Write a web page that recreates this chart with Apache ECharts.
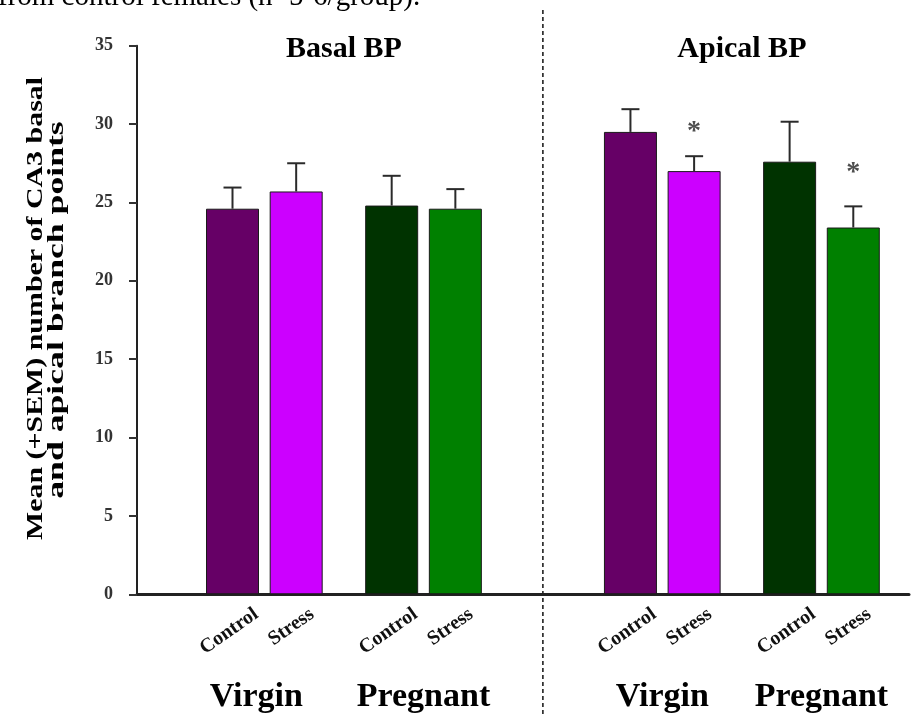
<!DOCTYPE html>
<html><head><meta charset="utf-8">
<script src="https://cdn.jsdelivr.net/npm/echarts@6/dist/echarts.min.js"></script>
<style>html,body{margin:0;padding:0;background:#fff}#c{width:912px;height:717px}</style>
</head><body><div id="c"></div>
<script>
// ---------------- data ----------------
const groups = ['Basal BP', 'Apical BP'];
const states = ['Virgin', 'Pregnant'];
const treatments = ['Control', 'Stress'];
// order: Virgin Control, Virgin Stress, Pregnant Control, Pregnant Stress
const basalMean = [24.6, 25.7, 24.8, 24.6];
const basalSem = [1.35, 1.8, 1.9, 1.25];
const apicalMean = [29.5, 27.0, 27.6, 23.4];
const apicalSem = [1.45, 0.95, 2.55, 1.35];
const apicalStar = [null, 29.8, null, 27.2];
const basalStar = [null, null, null, null];
const yMin = 0, yMax = 35, yStep = 5;
const caption = 'from control females (n=5-6/group).';
const yTitle = ['Mean (+SEM) number of CA3 basal', 'and apical branch points'];

// ---------------- layout ----------------
const FONT = '"Liberation Serif", "Times New Roman", serif';
const SLOTS = 98;
const SLOT_W = 8.03;
const barSlots = [12, 20, 32, 40, 62, 70, 82, 90];
const labelShift = { Control: 3, Stress: 2 };
const stateSlots = [15, 36, 66, 86];
const dividerSlot = 51;
const barColors = ['#660066', '#CC00FF', '#003300', '#008000'];

const means = [basalMean, apicalMean];
const sems = [basalSem, apicalSem];
const stars = [basalStar, apicalStar];

const conditions = [];
states.forEach(s => treatments.forEach(t => conditions.push(s + ' ' + t)));

const barCats = new Array(SLOTS).fill('');
groups.forEach((g, gi) => conditions.forEach((c, ci) => { barCats[barSlots[gi * 4 + ci]] = g + ' ' + c; }));

const treatmentCats = new Array(SLOTS).fill('');
barSlots.forEach((s, i) => { const t = treatments[i % 2]; treatmentCats[s + labelShift[t]] = t; });
const stateCats = new Array(SLOTS).fill('');
stateSlots.forEach((s, i) => { stateCats[s] = states[i % 2]; });

const barSeries = conditions.map((name, ci) => {
  const data = new Array(SLOTS).fill('-');
  groups.forEach((g, gi) => { data[barSlots[gi * 4 + ci]] = means[gi][ci]; });
  return {
    type: 'bar', name, data, barWidth: 53, barGap: '-100%',
    itemStyle: { color: barColors[ci], borderColor: '#1a1a1a', borderWidth: 1 },
    silent: true, z: 2
  };
});

const errData = [];
const starData = [];
groups.forEach((g, gi) => conditions.forEach((c, ci) => {
  const slot = barSlots[gi * 4 + ci];
  errData.push([slot, means[gi][ci], means[gi][ci] + sems[gi][ci]]);
  if (stars[gi][ci] != null) starData.push([slot, stars[gi][ci]]);
}));

const chart = echarts.init(document.getElementById('c'), null, { renderer: 'canvas' });

const baseAxis = {
  type: 'category', boundaryGap: false, position: 'bottom', offset: 0,
  axisTick: { show: false }, splitLine: { show: false }
};

chart.setOption({
  animation: false,
  backgroundColor: '#fff',
  grid: { left: 137, top: 45.7, width: (SLOTS - 1) * SLOT_W, height: 548.6, containLabel: false },
  xAxis: [
    Object.assign({}, baseAxis, {
      data: barCats,
      axisLine: { show: true, lineStyle: { color: '#222', width: 3 } },
      axisLabel: { show: false }
    }),
    Object.assign({}, baseAxis, {
      data: treatmentCats,
      axisLine: { show: false },
      axisLabel: { show: true, interval: 0, rotate: 35, margin: 18, color: '#111',
        fontFamily: FONT, fontWeight: 'bold', fontSize: 20 }
    }),
    Object.assign({}, baseAxis, {
      data: stateCats,
      axisLine: { show: false },
      axisLabel: { show: true, interval: 0, margin: 86, color: '#000',
        fontFamily: FONT, fontWeight: 'bold', fontSize: 34 }
    })
  ],
  yAxis: {
    type: 'value', min: yMin, max: yMax, interval: yStep,
    axisLine: { show: true, lineStyle: { color: '#222', width: 2 } },
    axisTick: { show: true, inside: false, length: 8, lineStyle: { color: '#333', width: 2 } },
    splitLine: { show: false },
    axisLabel: { margin: 24, color: '#333', fontFamily: FONT, fontWeight: 'bold', fontSize: 18 }
  },
  series: barSeries.concat([
    {
      type: 'custom', name: 'SEM', xAxisIndex: 0, data: errData, z: 3, silent: true,
      renderItem: (params, api) => {
        const base = api.coord([api.value(0), api.value(1)]);
        const top = api.coord([api.value(0), api.value(2)]);
        const half = 9;
        return {
          type: 'group', children: [
            { type: 'line', shape: { x1: base[0], y1: base[1], x2: top[0], y2: top[1] },
              style: { stroke: '#2a2a2a', lineWidth: 2 } },
            { type: 'line', shape: { x1: top[0] - half, y1: top[1], x2: top[0] + half, y2: top[1] },
              style: { stroke: '#2a2a2a', lineWidth: 2 } }
          ]
        };
      }
    },
    {
      type: 'scatter', name: 'significance', data: starData, symbolSize: 1, z: 4, silent: true,
      itemStyle: { color: 'rgba(0,0,0,0)' },
      label: { show: true, position: 'inside', formatter: '*', offset: [0, 5],
        color: '#222', fontFamily: FONT, fontWeight: 'bold', fontSize: 28 }
    }
  ])
});

const divX = chart.convertToPixel({ xAxisIndex: 0 }, dividerSlot);
const groupCenters = [26, 76].map(s => chart.convertToPixel({ xAxisIndex: 0 }, s));

function txt(text, x, y, size, weight, extra) {
  return Object.assign({
    type: 'text', x, y, silent: true,
    style: { text, fill: '#000', font: weight + ' ' + size + 'px ' + FONT,
      align: 'center', textAlign: 'center', verticalAlign: 'middle', textVerticalAlign: 'middle' }
  }, extra || {});
}

chart.setOption({
  graphic: [
    { type: 'line', silent: true, shape: { x1: divX, y1: 10, x2: divX, y2: 717 },
      style: { stroke: '#111', lineWidth: 1.5, lineDash: [4, 3] } },
    txt(groups[0], groupCenters[0], 49, 30, 'bold'),
    txt(groups[1], groupCenters[1], 49, 30, 'bold'),
    txt(yTitle[0], 36, 308.5, 23, 'bold', { rotation: Math.PI / 2, scaleX: 1.3 }),
    txt(yTitle[1], 57, 310, 23, 'bold', { rotation: Math.PI / 2, scaleX: 1.55 }),
    {
      type: 'text', x: -2, y: -3, silent: true,
      style: { text: caption, fill: '#000', font: 'normal 29px ' + FONT,
        align: 'left', textAlign: 'left', verticalAlign: 'middle', textVerticalAlign: 'middle' }
    }
  ]
});
</script>
</body></html>
